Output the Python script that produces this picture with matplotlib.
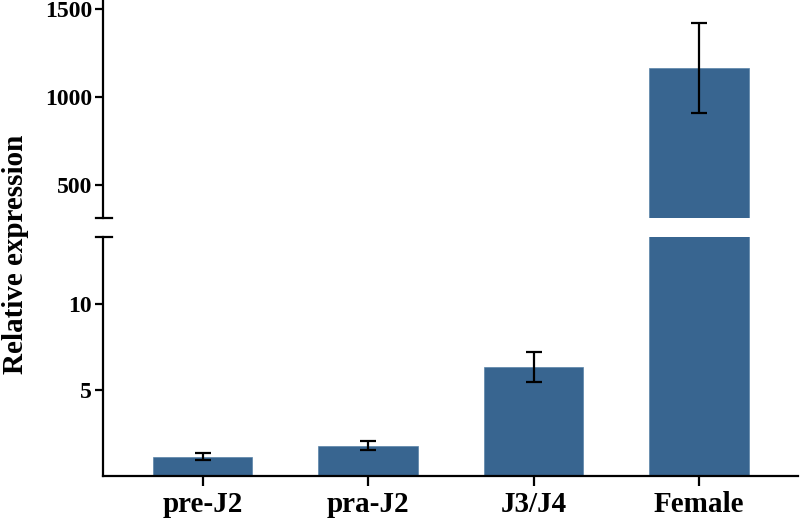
import matplotlib
matplotlib.use("Agg")
import matplotlib.pyplot as plt

plt.rcParams['font.family'] = ['Liberation Serif', 'DejaVu Serif']
plt.rcParams['font.weight'] = 'bold'

etapas = ['pre-J2', 'pra-J2', 'J3/J4', 'Female']
expresion = [1.1, 1.75, 6.35, 1165]
error = [0.2, 0.25, 0.88, 258]

color_barra = '#386590'
ancho = 0.6

fig = plt.figure(figsize=(8, 5.2), dpi=100)
ax_sup = fig.add_axes([0.129, 0.581, 0.869, 0.419])
ax_inf = fig.add_axes([0.129, 0.085, 0.869, 0.459])

x = list(range(len(etapas)))
for ax in (ax_sup, ax_inf):
    ax.bar(x, expresion, width=ancho, color=color_barra, edgecolor='#5a84a8', linewidth=0.5)
    ax.errorbar(x, expresion, yerr=error, fmt='none', ecolor='black',
                elinewidth=1.6, capsize=6, capthick=1.6)
    ax.set_xlim(-0.6, 3.6)
    for lado in ('top', 'right'):
        ax.spines[lado].set_visible(False)
    ax.spines['left'].set_linewidth(1.6)
    ax.spines['bottom'].set_linewidth(1.6)
    ax.tick_params(axis='y', width=1.6, length=6, labelsize=17, pad=2)
    ax.tick_params(axis='x', width=1.6, length=7, labelsize=21, pad=4)

ax_sup.set_ylim(313, 1551)
ax_sup.set_yticks([500, 1000, 1500])
ax_sup.spines['bottom'].set_visible(False)
ax_sup.set_xticks([])

ax_inf.set_ylim(0, 13.9)
ax_inf.set_yticks([5, 10])
ax_inf.set_xticks(x)
ax_inf.set_xticklabels(etapas, fontweight='bold')

for lbl in ax_sup.get_yticklabels() + ax_inf.get_yticklabels():
    lbl.set_fontweight('bold')

# marcas de corte del eje
for ax, yy in ((ax_sup, 0.0), (ax_inf, 1.0)):
    ax.plot([-0.011, 0.012], [yy, yy], transform=ax.transAxes, color='black',
            linewidth=1.6, clip_on=False)

fig.text(0.02, 0.51, 'Relative expression', rotation=90, ha='center', va='center',
         fontsize=21, fontweight='bold')

fig.savefig('out.png', dpi=100)
